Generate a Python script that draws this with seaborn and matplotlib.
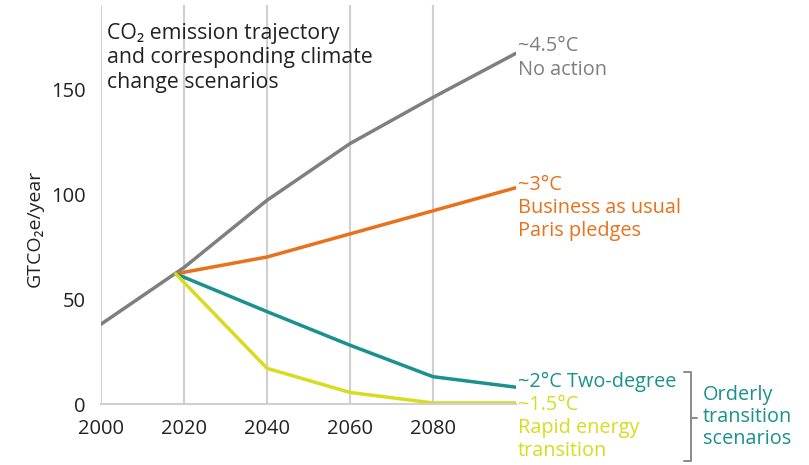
import matplotlib
matplotlib.use("Agg")
import matplotlib.pyplot as plt
import seaborn as sns
import pandas as pd
from matplotlib.lines import Line2D

sns.set_theme(style="white")
plt.rcParams['font.family'] = ['Open Sans', 'DejaVu Sans']

# ---- data ----
years_noaction = [2000, 2020, 2040, 2060, 2080, 2100]
noaction = [38, 65, 97, 124, 146, 167]
years_scen = [2018, 2040, 2060, 2080, 2100]
bau = [62, 70, 81, 92, 103]
two_deg = [62, 44, 28, 13, 8]
one_five = [62, 17, 5.5, 0.5, 0.5]

series_names = ["No action", "Business as usual", "Two-degree", "Rapid energy transition"]
colors = ["#7f7f7f", "#e8711a", "#19918f", "#d7dc1e"]
xticks = [2000, 2020, 2040, 2060, 2080]
yticks = [0, 50, 100, 150]

rows = []
for y, v in zip(years_noaction, noaction):
    rows.append(("No action", y, v))
for name, vals in zip(series_names[1:], [bau, two_deg, one_five]):
    for y, v in zip(years_scen, vals):
        rows.append((name, y, v))
df = pd.DataFrame(rows, columns=["scenario", "year", "value"])

fig = plt.figure(figsize=(8.09, 4.65), dpi=100)
ax = fig.add_axes([101/809, 61/465, 415/809, 399/465])

sns.lineplot(data=df, x="year", y="value", hue="scenario", hue_order=series_names,
             palette=colors, linewidth=2.5, ax=ax, legend=False, sort=False)

ax.set_xlim(2000, 2100)
ax.set_ylim(0, 190)
ax.set_xticks(xticks)
ax.set_yticks(yticks)
ax.tick_params(axis='both', length=0, labelsize=14.5, colors="#222222")
ax.tick_params(axis='x', pad=11)
ax.tick_params(axis='y', pad=11)
for s in ["top", "right", "left"]:
    ax.spines[s].set_visible(False)
ax.spines["bottom"].set_color("#d0d0d0")
ax.spines["bottom"].set_linewidth(1.5)
for x in xticks:
    ax.axvline(x, color="#d0d0d0", lw=1.5, zorder=0)
ax.set_xlabel("")
ax.set_ylabel("")

def fx(p):
    return p / 809
def fy(p):
    return 1 - p / 465

fig.text(fx(35), fy(228), "GTCO₂e/year", fontsize=14, color="#222222", rotation=90,
         ha="center", va="center")

# title
fig.text(fx(107), fy(58), "CO₂ emission trajectory\nand corresponding climate\nchange scenarios",
         fontsize=15.3, color="#222222", va="center", ha="left", linespacing=1.2)

def label(ypix, text, color):
    fig.text(fx(518), fy(ypix), text, fontsize=14.3, color=color, va="center", ha="left")

label(46, "~4.5°C", colors[0])
label(70, "No action", colors[0])
label(185, "~3°C", colors[1])
label(208, "Business as usual", colors[1])
label(231, "Paris pledges", colors[1])
label(382, "~2°C Two-degree", colors[2])
label(405, "~1.5°C", colors[3])
label(428, "Rapid energy", colors[3])
label(451, "transition", colors[3])

# bracket
bc = "#8a8a8a"
fig.add_artist(Line2D([fx(684), fx(691), fx(691), fx(684)], [fy(372), fy(372), fy(461), fy(461)],
                      color=bc, lw=1.4))
fig.add_artist(Line2D([fx(691), fx(697)], [fy(418), fy(418)], color=bc, lw=1.4))
fig.text(fx(703), fy(417), "Orderly\ntransition\nscenarios", fontsize=14.3, color=colors[2],
         va="center", ha="left", linespacing=1.15)

fig.savefig("out.png", dpi=100)
